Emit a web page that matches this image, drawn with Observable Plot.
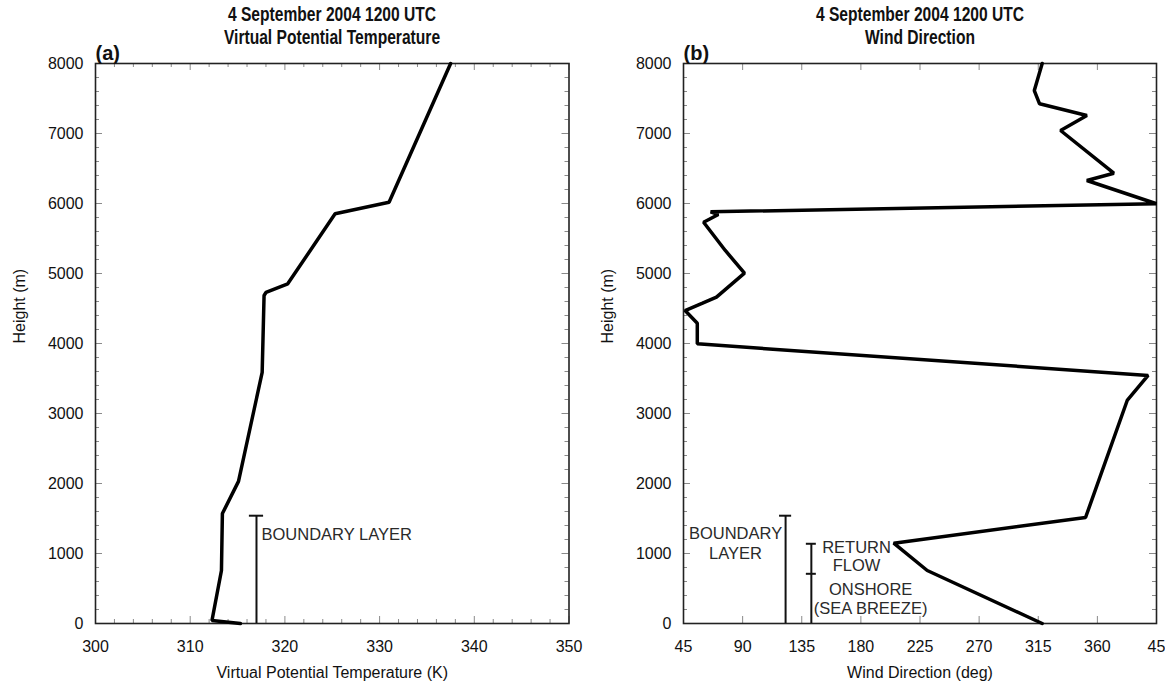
<!DOCTYPE html>
<html><head><meta charset="utf-8">
<script src="https://cdn.jsdelivr.net/npm/d3@7"></script>
<script src="https://cdn.jsdelivr.net/npm/@observablehq/plot@0.6"></script>
<style>
html,body{margin:0;padding:0;background:#fff;}
#wrap{position:relative;width:1165px;height:696px;overflow:hidden;background:#fff;}
#wrap svg{position:absolute;top:0;}
.ttl{position:absolute;top:3px;width:400px;text-align:center;font-family:"Liberation Sans",Arial,sans-serif;
     font-weight:bold;font-size:20px;line-height:23px;color:#111;transform:scaleX(0.78);transform-origin:center;white-space:nowrap;}
</style></head><body><div id="wrap"></div>
<script>
// ---------- titles / labels ----------
const titleLine1 = "4 September 2004 1200 UTC";
const titleA = "Virtual Potential Temperature";
const titleB = "Wind Direction";
const panelA = "(a)";
const panelB = "(b)";
const xLabelA = "Virtual Potential Temperature (K)";
const xLabelB = "Wind Direction (deg)";
const yLabel = "Height (m)";

// ---------- ticks ----------
const yMajor = [0, 1000, 2000, 3000, 4000, 5000, 6000, 7000, 8000];
const yMinor = [200,400,600,800,1200,1400,1600,1800,2200,2400,2600,2800,3200,3400,3600,3800,4200,4400,4600,4800,5200,5400,5600,5800,6200,6400,6600,6800,7200,7400,7600,7800];
const xMajorA = [300, 310, 320, 330, 340, 350];
const xMinorA = [302,304,306,308,312,314,316,318,322,324,326,328,332,334,336,338,342,344,346,348];
const xMajorB = [45, 90, 135, 180, 225, 270, 315, 360, 405];
const xTickLabelsB = ["45", "90", "135", "180", "225", "270", "315", "360", "45"];

// ---------- panel (a) data: virtual potential temperature ----------
const thetaHeight = [0, 43, 757, 1571, 2030, 3586, 4686, 4729, 4853, 5853, 6019, 8000];
const thetaValue  = [315.3, 312.3, 313.3, 313.4, 315.1, 317.6, 317.8, 318.0, 320.3, 325.3, 331.0, 337.5];

// ---------- panel (b) data: wind direction (deg, values past 360 are unwrapped: 398.6 = 38.6) ----------
const windHeight = [0, 757, 1147, 1514, 3186, 3543, 3995, 4290, 4471, 4576, 4662, 5005, 5329, 5733, 5843, 5881, 5996, 6329, 6433, 7043, 7257, 7424, 7614, 8000];
const windDir    = [318, 230.5, 205, 351, 382.7, 398.6, 55.5, 55.5, 46.2, 59.5, 70.1, 91.4, 76.8, 60.3, 71.5, 65.6, 405, 352, 372.5, 332, 352, 316, 312, 318];

// ---------- annotations ----------
const blTop = 1540;            // boundary layer top (m)
const blBarA = 317.0;          // K
const blTextA = "BOUNDARY LAYER";
const blBarB = 122.7;          // deg
const blTextB = ["BOUNDARY", "LAYER"];
const rfBarB = 142.3;          // deg
const rfTop = 1139;            // return flow top (m)
const rfBottom = 710;          // return flow bottom / onshore top (m)
const rfText = ["RETURN", "FLOW"];
const onText = ["ONSHORE", "(SEA BREEZE)"];

const thetaData = thetaHeight.map((h, i) => ({h, v: thetaValue[i]}));
const windData = windHeight.map((h, i) => ({h, v: windDir[i]}));

const FONT = '"Liberation Sans", Arial, sans-serif';
const H = 696, MT = 63, MB = 73;
const FH = H - MT - MB;
const TICK = "#8a8a8a";
const TXT = "#2a2a2a";
const TS = 16;     // tick label size
const AS = 16.5;   // annotation size

function frameTicks(xMaj, xMin, fw) {
  const m = [];
  const mk = 7, mn = 4;
  m.push(Plot.tickX(xMaj, {x: d => d, insetTop: FH - mk, stroke: TICK, strokeWidth: 1}));
  m.push(Plot.tickX(xMaj, {x: d => d, insetBottom: FH - mk, stroke: TICK, strokeWidth: 1}));
  if (xMin) {
    m.push(Plot.tickX(xMin, {x: d => d, insetTop: FH - mn, stroke: TICK, strokeWidth: 1}));
    m.push(Plot.tickX(xMin, {x: d => d, insetBottom: FH - mn, stroke: TICK, strokeWidth: 1}));
  }
  m.push(Plot.tickY(yMajor, {y: d => d, insetRight: fw - mk, stroke: TICK, strokeWidth: 1}));
  m.push(Plot.tickY(yMajor, {y: d => d, insetLeft: fw - mk, stroke: TICK, strokeWidth: 1}));
  m.push(Plot.tickY(yMinor, {y: d => d, insetRight: fw - mn, stroke: TICK, strokeWidth: 1}));
  m.push(Plot.tickY(yMinor, {y: d => d, insetLeft: fw - mn, stroke: TICK, strokeWidth: 1}));
  return m;
}

function labels(tag) {
  return [
    Plot.text([tag], {frameAnchor: "top-left", textAnchor: "start", dy: -18, dx: 0, fontWeight: "bold", fontSize: 20, fill: "#111"}),
    Plot.text([yLabel], {frameAnchor: "left", rotate: -90, dx: -76, fontSize: 16, fill: "#111"})
  ];
}

// ---------------- Panel A ----------------
const WA = 582, MLA = 95, MRA = 13.5;
const plotA = Plot.plot({
  width: WA, height: H,
  marginTop: MT, marginBottom: MB, marginLeft: MLA, marginRight: MRA,
  style: {fontFamily: FONT, fontSize: TS + "px", color: "#111", background: "transparent", overflow: "visible"},
  x: {domain: [300, 350]},
  y: {domain: [0, 8000]},
  marks: [
    ...frameTicks(xMajorA, xMinorA, WA - MLA - MRA),
    Plot.frame({stroke: "#222", strokeWidth: 1.6}),
    Plot.axisX({ticks: xMajorA, tickSize: 0, tickPadding: 17, label: null, fontSize: TS, tickFormat: d => String(d)}),
    Plot.axisY({ticks: yMajor, tickSize: 0, tickPadding: 12, label: null, fontSize: TS, tickFormat: d => String(d)}),
    Plot.text([xLabelA], {frameAnchor: "bottom", dy: 54, fontSize: 16, fill: "#111"}),
    ...labels(panelA),
    // boundary layer annotation
    Plot.ruleX([blBarA], {x: d => d, y1: 0, y2: blTop, stroke: "#111", strokeWidth: 2}),
    Plot.ruleY([blTop], {y: d => d, x1: blBarA - 0.75, x2: blBarA + 0.75, stroke: "#111", strokeWidth: 2}),
    Plot.text([blTextA], {x: blBarA, y: 1267, textAnchor: "start", dx: 5, fontSize: AS, fill: TXT}),
    // profile
    Plot.line(thetaData, {x: "v", y: "h", stroke: "#000", strokeWidth: 3.5, strokeLinejoin: "miter"})
  ]
});
plotA.style.left = "0px";

// ---------------- Panel B ----------------
const WB = 583, MLB = 101, MRB = 9;
const plotB = Plot.plot({
  width: WB, height: H,
  marginTop: MT, marginBottom: MB, marginLeft: MLB, marginRight: MRB,
  style: {fontFamily: FONT, fontSize: TS + "px", color: "#111", background: "transparent", overflow: "visible"},
  x: {domain: [45, 405]},
  y: {domain: [0, 8000]},
  marks: [
    ...frameTicks(xMajorB, null, WB - MLB - MRB),
    Plot.frame({stroke: "#222", strokeWidth: 1.6}),
    Plot.axisX({ticks: xMajorB, tickSize: 0, tickPadding: 17, label: null, fontSize: TS,
                tickFormat: d => xTickLabelsB[xMajorB.indexOf(d)]}),
    Plot.axisY({ticks: yMajor, tickSize: 0, tickPadding: 12, label: null, fontSize: TS, tickFormat: d => String(d)}),
    Plot.text([xLabelB], {frameAnchor: "bottom", dy: 54, fontSize: 16, fill: "#111"}),
    ...labels(panelB),
    // boundary layer
    Plot.ruleX([blBarB], {x: d => d, y1: 0, y2: blTop, stroke: "#111", strokeWidth: 2}),
    Plot.ruleY([blTop], {y: d => d, x1: blBarB - 4.6, x2: blBarB + 4.6, stroke: "#111", strokeWidth: 2}),
    Plot.text([blTextB[0]], {x: 84.6, y: 1286, fontSize: AS, fill: TXT}),
    Plot.text([blTextB[1]], {x: 84.6, y: 1000, fontSize: AS, fill: TXT}),
    // return flow / onshore
    Plot.ruleX([rfBarB], {x: d => d, y1: 0, y2: rfTop, stroke: "#111", strokeWidth: 2}),
    Plot.ruleY([rfTop, rfBottom], {y: d => d, x1: rfBarB - 3.8, x2: rfBarB + 3.8, stroke: "#111", strokeWidth: 2}),
    Plot.text([rfText[0]], {x: 176.7, y: 1076, fontSize: AS, fill: TXT}),
    Plot.text([rfText[1]], {x: 176.7, y: 829, fontSize: AS, fill: TXT}),
    Plot.text([onText[0]], {x: 187.4, y: 486, fontSize: AS, fill: TXT}),
    Plot.text([onText[1]], {x: 187.4, y: 214, fontSize: AS, fill: TXT}),
    // profile
    Plot.line(windData, {x: "v", y: "h", stroke: "#000", strokeWidth: 3.5, strokeLinejoin: "miter"})
  ]
});
plotB.style.left = "582px";

const wrap = document.getElementById("wrap");
wrap.append(plotA, plotB);

// titles above each panel (HTML, horizontally condensed like the original)
function addTitle(centerX, sub) {
  const d = document.createElement("div");
  d.className = "ttl";
  d.style.left = (centerX - 200) + "px";
  d.innerHTML = titleLine1 + "<br>" + sub;
  wrap.append(d);
}
addTitle(MLA + (WA - MLA - MRA) / 2, titleA);
addTitle(582 + MLB + (WB - MLB - MRB) / 2, titleB);
</script></body></html>
